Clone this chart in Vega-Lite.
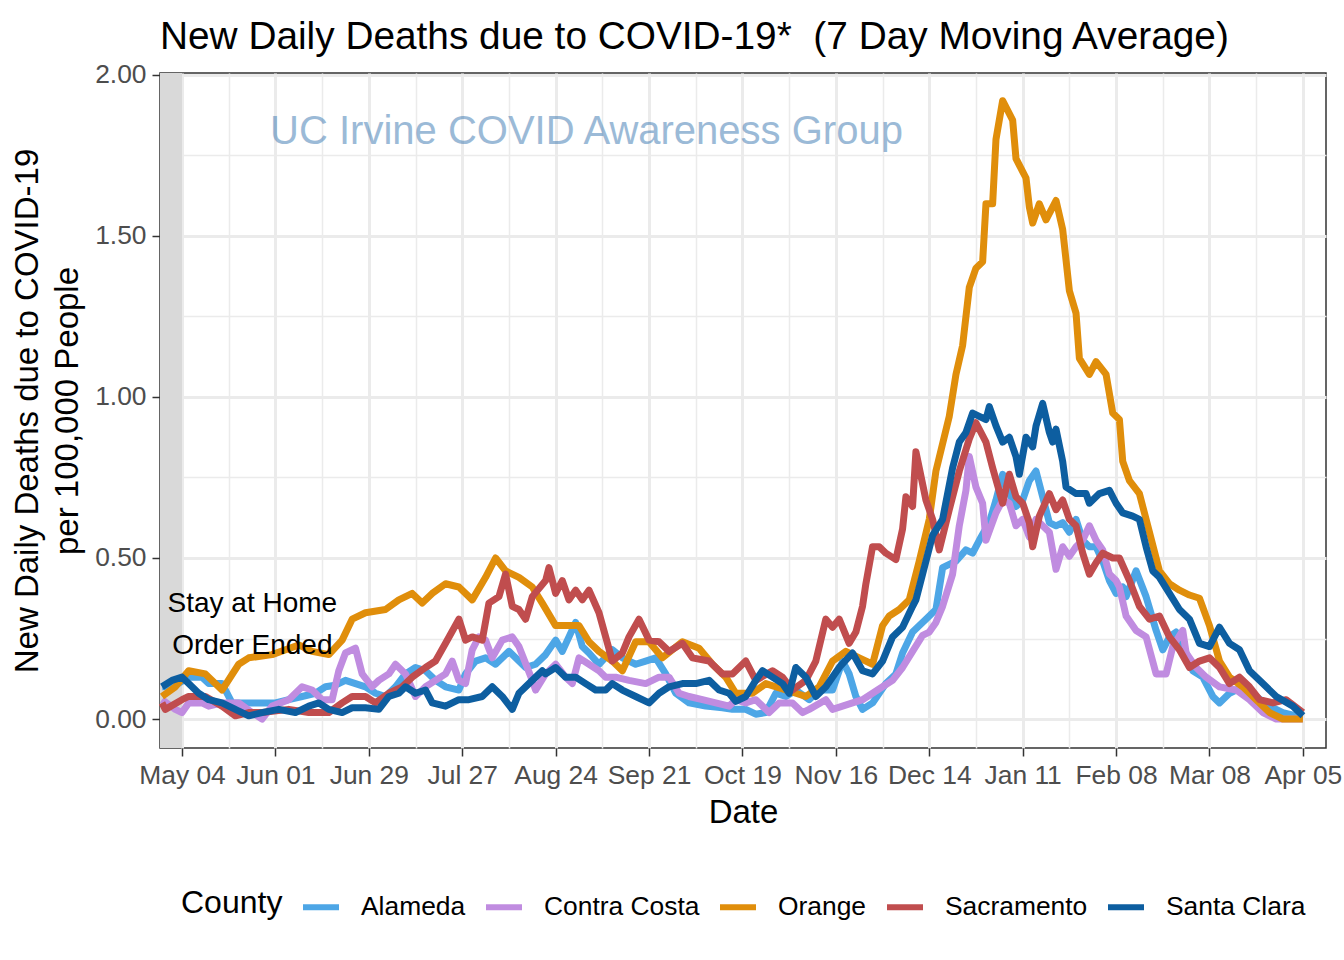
{
  "$schema": "https://vega.github.io/schema/vega-lite/v6.json",
  "autosize": "none",
  "width": 1166,
  "height": 675,
  "padding": {"left": 160, "top": 73, "right": 18, "bottom": 212},
  "background": "white",
  "title": {
    "text": "New Daily Deaths due to COVID-19*\u00a0 (7 Day Moving Average)",
    "anchor": "start",
    "frame": "group",
    "fontSize": 38.8,
    "fontWeight": "normal",
    "color": "black",
    "baseline": "alphabetic",
    "offset": 26,
    "dy": 52
  },
  "config": {
    "font": "Liberation Sans",
    "view": {"stroke": "#333333", "strokeWidth": 1.5},
    "axis": {
      "domain": false,
      "grid": true,
      "tickColor": "#333333",
      "tickSize": 8,
      "tickWidth": 1.5,
      "labelColor": "#4D4D4D",
      "labelFontSize": 26.4,
      "titleFontSize": 33,
      "titleFontWeight": "normal",
      "titleColor": "black",
      "gridColor": "#EBEBEB"
    }
  },
  "layer": [
    {
      "data": {"values": [{}]},
      "mark": {"type": "rect", "color": "#D9D9D9", "clip": true},
      "encoding": {
        "x": {"datum": {"year": 2020, "month": 4, "date": 1, "utc": true}, "type": "temporal"},
        "x2": {"datum": {"year": 2020, "month": 5, "date": 4, "utc": true}}
      }
    },
    {
      "data": {
        "values": [
          {"county": "Alameda", "date": "2020-04-28", "deaths": 0.10},
          {"county": "Alameda", "date": "2020-05-02", "deaths": 0.105},
          {"county": "Alameda", "date": "2020-05-06", "deaths": 0.13},
          {"county": "Alameda", "date": "2020-05-10", "deaths": 0.13},
          {"county": "Alameda", "date": "2020-05-12", "deaths": 0.11},
          {"county": "Alameda", "date": "2020-05-16", "deaths": 0.11},
          {"county": "Alameda", "date": "2020-05-19", "deaths": 0.05},
          {"county": "Alameda", "date": "2020-05-24", "deaths": 0.05},
          {"county": "Alameda", "date": "2020-05-28", "deaths": 0.05},
          {"county": "Alameda", "date": "2020-06-01", "deaths": 0.05},
          {"county": "Alameda", "date": "2020-06-05", "deaths": 0.06},
          {"county": "Alameda", "date": "2020-06-09", "deaths": 0.07},
          {"county": "Alameda", "date": "2020-06-13", "deaths": 0.08},
          {"county": "Alameda", "date": "2020-06-16", "deaths": 0.10},
          {"county": "Alameda", "date": "2020-06-19", "deaths": 0.105},
          {"county": "Alameda", "date": "2020-06-22", "deaths": 0.12},
          {"county": "Alameda", "date": "2020-06-25", "deaths": 0.11},
          {"county": "Alameda", "date": "2020-06-28", "deaths": 0.10},
          {"county": "Alameda", "date": "2020-07-01", "deaths": 0.08},
          {"county": "Alameda", "date": "2020-07-04", "deaths": 0.07},
          {"county": "Alameda", "date": "2020-07-07", "deaths": 0.10},
          {"county": "Alameda", "date": "2020-07-10", "deaths": 0.14},
          {"county": "Alameda", "date": "2020-07-13", "deaths": 0.16},
          {"county": "Alameda", "date": "2020-07-16", "deaths": 0.15},
          {"county": "Alameda", "date": "2020-07-19", "deaths": 0.12},
          {"county": "Alameda", "date": "2020-07-22", "deaths": 0.10},
          {"county": "Alameda", "date": "2020-07-26", "deaths": 0.09},
          {"county": "Alameda", "date": "2020-07-28", "deaths": 0.14},
          {"county": "Alameda", "date": "2020-07-31", "deaths": 0.18},
          {"county": "Alameda", "date": "2020-08-03", "deaths": 0.19},
          {"county": "Alameda", "date": "2020-08-06", "deaths": 0.17},
          {"county": "Alameda", "date": "2020-08-10", "deaths": 0.21},
          {"county": "Alameda", "date": "2020-08-13", "deaths": 0.18},
          {"county": "Alameda", "date": "2020-08-15", "deaths": 0.16},
          {"county": "Alameda", "date": "2020-08-18", "deaths": 0.17},
          {"county": "Alameda", "date": "2020-08-21", "deaths": 0.20},
          {"county": "Alameda", "date": "2020-08-24", "deaths": 0.245},
          {"county": "Alameda", "date": "2020-08-26", "deaths": 0.21},
          {"county": "Alameda", "date": "2020-08-28", "deaths": 0.255},
          {"county": "Alameda", "date": "2020-08-30", "deaths": 0.30},
          {"county": "Alameda", "date": "2020-09-01", "deaths": 0.225},
          {"county": "Alameda", "date": "2020-09-03", "deaths": 0.205},
          {"county": "Alameda", "date": "2020-09-06", "deaths": 0.17},
          {"county": "Alameda", "date": "2020-09-10", "deaths": 0.215},
          {"county": "Alameda", "date": "2020-09-13", "deaths": 0.19},
          {"county": "Alameda", "date": "2020-09-17", "deaths": 0.17},
          {"county": "Alameda", "date": "2020-09-20", "deaths": 0.18},
          {"county": "Alameda", "date": "2020-09-23", "deaths": 0.19},
          {"county": "Alameda", "date": "2020-09-26", "deaths": 0.14},
          {"county": "Alameda", "date": "2020-09-29", "deaths": 0.08},
          {"county": "Alameda", "date": "2020-10-03", "deaths": 0.05},
          {"county": "Alameda", "date": "2020-10-08", "deaths": 0.04},
          {"county": "Alameda", "date": "2020-10-13", "deaths": 0.035},
          {"county": "Alameda", "date": "2020-10-16", "deaths": 0.03},
          {"county": "Alameda", "date": "2020-10-20", "deaths": 0.03},
          {"county": "Alameda", "date": "2020-10-23", "deaths": 0.015},
          {"county": "Alameda", "date": "2020-10-26", "deaths": 0.02},
          {"county": "Alameda", "date": "2020-10-29", "deaths": 0.08},
          {"county": "Alameda", "date": "2020-11-01", "deaths": 0.07},
          {"county": "Alameda", "date": "2020-11-04", "deaths": 0.09},
          {"county": "Alameda", "date": "2020-11-08", "deaths": 0.06},
          {"county": "Alameda", "date": "2020-11-11", "deaths": 0.09},
          {"county": "Alameda", "date": "2020-11-15", "deaths": 0.09},
          {"county": "Alameda", "date": "2020-11-18", "deaths": 0.18},
          {"county": "Alameda", "date": "2020-11-20", "deaths": 0.14},
          {"county": "Alameda", "date": "2020-11-22", "deaths": 0.07},
          {"county": "Alameda", "date": "2020-11-24", "deaths": 0.03},
          {"county": "Alameda", "date": "2020-11-27", "deaths": 0.05},
          {"county": "Alameda", "date": "2020-12-01", "deaths": 0.11},
          {"county": "Alameda", "date": "2020-12-04", "deaths": 0.14},
          {"county": "Alameda", "date": "2020-12-06", "deaths": 0.205},
          {"county": "Alameda", "date": "2020-12-09", "deaths": 0.27},
          {"county": "Alameda", "date": "2020-12-13", "deaths": 0.31},
          {"county": "Alameda", "date": "2020-12-16", "deaths": 0.34},
          {"county": "Alameda", "date": "2020-12-18", "deaths": 0.47},
          {"county": "Alameda", "date": "2020-12-22", "deaths": 0.49},
          {"county": "Alameda", "date": "2020-12-25", "deaths": 0.525},
          {"county": "Alameda", "date": "2020-12-27", "deaths": 0.515},
          {"county": "Alameda", "date": "2020-12-29", "deaths": 0.555},
          {"county": "Alameda", "date": "2021-01-01", "deaths": 0.61},
          {"county": "Alameda", "date": "2021-01-03", "deaths": 0.68},
          {"county": "Alameda", "date": "2021-01-05", "deaths": 0.76},
          {"county": "Alameda", "date": "2021-01-07", "deaths": 0.70},
          {"county": "Alameda", "date": "2021-01-09", "deaths": 0.66},
          {"county": "Alameda", "date": "2021-01-11", "deaths": 0.68},
          {"county": "Alameda", "date": "2021-01-13", "deaths": 0.74},
          {"county": "Alameda", "date": "2021-01-15", "deaths": 0.77},
          {"county": "Alameda", "date": "2021-01-17", "deaths": 0.69},
          {"county": "Alameda", "date": "2021-01-19", "deaths": 0.61},
          {"county": "Alameda", "date": "2021-01-21", "deaths": 0.60},
          {"county": "Alameda", "date": "2021-01-23", "deaths": 0.61},
          {"county": "Alameda", "date": "2021-01-25", "deaths": 0.58},
          {"county": "Alameda", "date": "2021-01-27", "deaths": 0.62},
          {"county": "Alameda", "date": "2021-01-29", "deaths": 0.555},
          {"county": "Alameda", "date": "2021-01-31", "deaths": 0.535},
          {"county": "Alameda", "date": "2021-02-02", "deaths": 0.535},
          {"county": "Alameda", "date": "2021-02-04", "deaths": 0.49},
          {"county": "Alameda", "date": "2021-02-06", "deaths": 0.43},
          {"county": "Alameda", "date": "2021-02-08", "deaths": 0.39},
          {"county": "Alameda", "date": "2021-02-10", "deaths": 0.41},
          {"county": "Alameda", "date": "2021-02-11", "deaths": 0.38},
          {"county": "Alameda", "date": "2021-02-14", "deaths": 0.46},
          {"county": "Alameda", "date": "2021-02-17", "deaths": 0.38},
          {"county": "Alameda", "date": "2021-02-20", "deaths": 0.275},
          {"county": "Alameda", "date": "2021-02-22", "deaths": 0.215},
          {"county": "Alameda", "date": "2021-02-24", "deaths": 0.255},
          {"county": "Alameda", "date": "2021-02-26", "deaths": 0.27},
          {"county": "Alameda", "date": "2021-03-01", "deaths": 0.205},
          {"county": "Alameda", "date": "2021-03-03", "deaths": 0.15},
          {"county": "Alameda", "date": "2021-03-06", "deaths": 0.13},
          {"county": "Alameda", "date": "2021-03-09", "deaths": 0.07},
          {"county": "Alameda", "date": "2021-03-11", "deaths": 0.05},
          {"county": "Alameda", "date": "2021-03-14", "deaths": 0.08},
          {"county": "Alameda", "date": "2021-03-18", "deaths": 0.10},
          {"county": "Alameda", "date": "2021-03-22", "deaths": 0.07},
          {"county": "Alameda", "date": "2021-03-26", "deaths": 0.04},
          {"county": "Alameda", "date": "2021-03-30", "deaths": 0.02},
          {"county": "Alameda", "date": "2021-04-03", "deaths": 0.01},
          {"county": "Alameda", "date": "2021-04-05", "deaths": 0.01},

          {"county": "Contra Costa", "date": "2020-04-28", "deaths": 0.06},
          {"county": "Contra Costa", "date": "2020-05-02", "deaths": 0.03},
          {"county": "Contra Costa", "date": "2020-05-04", "deaths": 0.02},
          {"county": "Contra Costa", "date": "2020-05-06", "deaths": 0.05},
          {"county": "Contra Costa", "date": "2020-05-10", "deaths": 0.05},
          {"county": "Contra Costa", "date": "2020-05-12", "deaths": 0.04},
          {"county": "Contra Costa", "date": "2020-05-16", "deaths": 0.05},
          {"county": "Contra Costa", "date": "2020-05-21", "deaths": 0.05},
          {"county": "Contra Costa", "date": "2020-05-25", "deaths": 0.02},
          {"county": "Contra Costa", "date": "2020-05-28", "deaths": 0.0},
          {"county": "Contra Costa", "date": "2020-05-31", "deaths": 0.04},
          {"county": "Contra Costa", "date": "2020-06-05", "deaths": 0.06},
          {"county": "Contra Costa", "date": "2020-06-09", "deaths": 0.10},
          {"county": "Contra Costa", "date": "2020-06-12", "deaths": 0.09},
          {"county": "Contra Costa", "date": "2020-06-15", "deaths": 0.06},
          {"county": "Contra Costa", "date": "2020-06-18", "deaths": 0.06},
          {"county": "Contra Costa", "date": "2020-06-20", "deaths": 0.15},
          {"county": "Contra Costa", "date": "2020-06-22", "deaths": 0.205},
          {"county": "Contra Costa", "date": "2020-06-25", "deaths": 0.22},
          {"county": "Contra Costa", "date": "2020-06-27", "deaths": 0.14},
          {"county": "Contra Costa", "date": "2020-06-30", "deaths": 0.10},
          {"county": "Contra Costa", "date": "2020-07-02", "deaths": 0.12},
          {"county": "Contra Costa", "date": "2020-07-05", "deaths": 0.14},
          {"county": "Contra Costa", "date": "2020-07-07", "deaths": 0.17},
          {"county": "Contra Costa", "date": "2020-07-10", "deaths": 0.14},
          {"county": "Contra Costa", "date": "2020-07-13", "deaths": 0.07},
          {"county": "Contra Costa", "date": "2020-07-16", "deaths": 0.10},
          {"county": "Contra Costa", "date": "2020-07-19", "deaths": 0.12},
          {"county": "Contra Costa", "date": "2020-07-22", "deaths": 0.14},
          {"county": "Contra Costa", "date": "2020-07-24", "deaths": 0.18},
          {"county": "Contra Costa", "date": "2020-07-26", "deaths": 0.12},
          {"county": "Contra Costa", "date": "2020-07-28", "deaths": 0.11},
          {"county": "Contra Costa", "date": "2020-07-30", "deaths": 0.215},
          {"county": "Contra Costa", "date": "2020-08-01", "deaths": 0.255},
          {"county": "Contra Costa", "date": "2020-08-03", "deaths": 0.245},
          {"county": "Contra Costa", "date": "2020-08-05", "deaths": 0.19},
          {"county": "Contra Costa", "date": "2020-08-08", "deaths": 0.245},
          {"county": "Contra Costa", "date": "2020-08-11", "deaths": 0.255},
          {"county": "Contra Costa", "date": "2020-08-13", "deaths": 0.225},
          {"county": "Contra Costa", "date": "2020-08-17", "deaths": 0.12},
          {"county": "Contra Costa", "date": "2020-08-18", "deaths": 0.09},
          {"county": "Contra Costa", "date": "2020-08-21", "deaths": 0.14},
          {"county": "Contra Costa", "date": "2020-08-24", "deaths": 0.17},
          {"county": "Contra Costa", "date": "2020-08-27", "deaths": 0.13},
          {"county": "Contra Costa", "date": "2020-08-29", "deaths": 0.11},
          {"county": "Contra Costa", "date": "2020-08-31", "deaths": 0.19},
          {"county": "Contra Costa", "date": "2020-09-03", "deaths": 0.17},
          {"county": "Contra Costa", "date": "2020-09-06", "deaths": 0.15},
          {"county": "Contra Costa", "date": "2020-09-08", "deaths": 0.13},
          {"county": "Contra Costa", "date": "2020-09-11", "deaths": 0.13},
          {"county": "Contra Costa", "date": "2020-09-15", "deaths": 0.12},
          {"county": "Contra Costa", "date": "2020-09-20", "deaths": 0.11},
          {"county": "Contra Costa", "date": "2020-09-24", "deaths": 0.13},
          {"county": "Contra Costa", "date": "2020-09-27", "deaths": 0.13},
          {"county": "Contra Costa", "date": "2020-09-30", "deaths": 0.08},
          {"county": "Contra Costa", "date": "2020-10-03", "deaths": 0.07},
          {"county": "Contra Costa", "date": "2020-10-07", "deaths": 0.06},
          {"county": "Contra Costa", "date": "2020-10-11", "deaths": 0.05},
          {"county": "Contra Costa", "date": "2020-10-15", "deaths": 0.04},
          {"county": "Contra Costa", "date": "2020-10-17", "deaths": 0.06},
          {"county": "Contra Costa", "date": "2020-10-20", "deaths": 0.05},
          {"county": "Contra Costa", "date": "2020-10-23", "deaths": 0.06},
          {"county": "Contra Costa", "date": "2020-10-27", "deaths": 0.02},
          {"county": "Contra Costa", "date": "2020-10-30", "deaths": 0.05},
          {"county": "Contra Costa", "date": "2020-11-03", "deaths": 0.05},
          {"county": "Contra Costa", "date": "2020-11-06", "deaths": 0.02},
          {"county": "Contra Costa", "date": "2020-11-08", "deaths": 0.03},
          {"county": "Contra Costa", "date": "2020-11-13", "deaths": 0.06},
          {"county": "Contra Costa", "date": "2020-11-15", "deaths": 0.03},
          {"county": "Contra Costa", "date": "2020-11-18", "deaths": 0.04},
          {"county": "Contra Costa", "date": "2020-11-21", "deaths": 0.05},
          {"county": "Contra Costa", "date": "2020-11-24", "deaths": 0.06},
          {"county": "Contra Costa", "date": "2020-11-27", "deaths": 0.08},
          {"county": "Contra Costa", "date": "2020-11-30", "deaths": 0.10},
          {"county": "Contra Costa", "date": "2020-12-03", "deaths": 0.12},
          {"county": "Contra Costa", "date": "2020-12-06", "deaths": 0.16},
          {"county": "Contra Costa", "date": "2020-12-09", "deaths": 0.21},
          {"county": "Contra Costa", "date": "2020-12-12", "deaths": 0.26},
          {"county": "Contra Costa", "date": "2020-12-14", "deaths": 0.27},
          {"county": "Contra Costa", "date": "2020-12-16", "deaths": 0.30},
          {"county": "Contra Costa", "date": "2020-12-18", "deaths": 0.35},
          {"county": "Contra Costa", "date": "2020-12-21", "deaths": 0.45},
          {"county": "Contra Costa", "date": "2020-12-23", "deaths": 0.60},
          {"county": "Contra Costa", "date": "2020-12-25", "deaths": 0.71},
          {"county": "Contra Costa", "date": "2020-12-26", "deaths": 0.815},
          {"county": "Contra Costa", "date": "2020-12-28", "deaths": 0.72},
          {"county": "Contra Costa", "date": "2020-12-30", "deaths": 0.67},
          {"county": "Contra Costa", "date": "2020-12-31", "deaths": 0.555},
          {"county": "Contra Costa", "date": "2021-01-03", "deaths": 0.64},
          {"county": "Contra Costa", "date": "2021-01-05", "deaths": 0.68},
          {"county": "Contra Costa", "date": "2021-01-07", "deaths": 0.67},
          {"county": "Contra Costa", "date": "2021-01-09", "deaths": 0.60},
          {"county": "Contra Costa", "date": "2021-01-11", "deaths": 0.62},
          {"county": "Contra Costa", "date": "2021-01-13", "deaths": 0.565},
          {"county": "Contra Costa", "date": "2021-01-15", "deaths": 0.62},
          {"county": "Contra Costa", "date": "2021-01-17", "deaths": 0.60},
          {"county": "Contra Costa", "date": "2021-01-19", "deaths": 0.58},
          {"county": "Contra Costa", "date": "2021-01-21", "deaths": 0.465},
          {"county": "Contra Costa", "date": "2021-01-23", "deaths": 0.535},
          {"county": "Contra Costa", "date": "2021-01-25", "deaths": 0.505},
          {"county": "Contra Costa", "date": "2021-01-27", "deaths": 0.535},
          {"county": "Contra Costa", "date": "2021-01-29", "deaths": 0.555},
          {"county": "Contra Costa", "date": "2021-01-31", "deaths": 0.60},
          {"county": "Contra Costa", "date": "2021-02-02", "deaths": 0.555},
          {"county": "Contra Costa", "date": "2021-02-04", "deaths": 0.525},
          {"county": "Contra Costa", "date": "2021-02-06", "deaths": 0.45},
          {"county": "Contra Costa", "date": "2021-02-08", "deaths": 0.43},
          {"county": "Contra Costa", "date": "2021-02-09", "deaths": 0.41},
          {"county": "Contra Costa", "date": "2021-02-11", "deaths": 0.32},
          {"county": "Contra Costa", "date": "2021-02-14", "deaths": 0.275},
          {"county": "Contra Costa", "date": "2021-02-17", "deaths": 0.255},
          {"county": "Contra Costa", "date": "2021-02-20", "deaths": 0.14},
          {"county": "Contra Costa", "date": "2021-02-23", "deaths": 0.14},
          {"county": "Contra Costa", "date": "2021-02-25", "deaths": 0.225},
          {"county": "Contra Costa", "date": "2021-02-28", "deaths": 0.275},
          {"county": "Contra Costa", "date": "2021-03-01", "deaths": 0.205},
          {"county": "Contra Costa", "date": "2021-03-04", "deaths": 0.16},
          {"county": "Contra Costa", "date": "2021-03-07", "deaths": 0.13},
          {"county": "Contra Costa", "date": "2021-03-11", "deaths": 0.10},
          {"county": "Contra Costa", "date": "2021-03-16", "deaths": 0.09},
          {"county": "Contra Costa", "date": "2021-03-20", "deaths": 0.06},
          {"county": "Contra Costa", "date": "2021-03-24", "deaths": 0.02},
          {"county": "Contra Costa", "date": "2021-03-28", "deaths": 0.0},
          {"county": "Contra Costa", "date": "2021-04-03", "deaths": 0.0},
          {"county": "Contra Costa", "date": "2021-04-05", "deaths": 0.0},

          {"county": "Orange", "date": "2020-04-28", "deaths": 0.07},
          {"county": "Orange", "date": "2020-05-02", "deaths": 0.10},
          {"county": "Orange", "date": "2020-05-06", "deaths": 0.15},
          {"county": "Orange", "date": "2020-05-11", "deaths": 0.14},
          {"county": "Orange", "date": "2020-05-16", "deaths": 0.09},
          {"county": "Orange", "date": "2020-05-21", "deaths": 0.17},
          {"county": "Orange", "date": "2020-05-24", "deaths": 0.19},
          {"county": "Orange", "date": "2020-05-31", "deaths": 0.20},
          {"county": "Orange", "date": "2020-06-08", "deaths": 0.23},
          {"county": "Orange", "date": "2020-06-12", "deaths": 0.21},
          {"county": "Orange", "date": "2020-06-17", "deaths": 0.20},
          {"county": "Orange", "date": "2020-06-21", "deaths": 0.245},
          {"county": "Orange", "date": "2020-06-24", "deaths": 0.31},
          {"county": "Orange", "date": "2020-06-28", "deaths": 0.33},
          {"county": "Orange", "date": "2020-07-04", "deaths": 0.34},
          {"county": "Orange", "date": "2020-07-08", "deaths": 0.37},
          {"county": "Orange", "date": "2020-07-12", "deaths": 0.39},
          {"county": "Orange", "date": "2020-07-15", "deaths": 0.36},
          {"county": "Orange", "date": "2020-07-18", "deaths": 0.39},
          {"county": "Orange", "date": "2020-07-22", "deaths": 0.42},
          {"county": "Orange", "date": "2020-07-26", "deaths": 0.41},
          {"county": "Orange", "date": "2020-07-30", "deaths": 0.37},
          {"county": "Orange", "date": "2020-08-03", "deaths": 0.44},
          {"county": "Orange", "date": "2020-08-06", "deaths": 0.50},
          {"county": "Orange", "date": "2020-08-09", "deaths": 0.46},
          {"county": "Orange", "date": "2020-08-13", "deaths": 0.44},
          {"county": "Orange", "date": "2020-08-17", "deaths": 0.41},
          {"county": "Orange", "date": "2020-08-20", "deaths": 0.36},
          {"county": "Orange", "date": "2020-08-24", "deaths": 0.29},
          {"county": "Orange", "date": "2020-08-28", "deaths": 0.29},
          {"county": "Orange", "date": "2020-08-31", "deaths": 0.29},
          {"county": "Orange", "date": "2020-09-03", "deaths": 0.24},
          {"county": "Orange", "date": "2020-09-06", "deaths": 0.21},
          {"county": "Orange", "date": "2020-09-10", "deaths": 0.18},
          {"county": "Orange", "date": "2020-09-13", "deaths": 0.15},
          {"county": "Orange", "date": "2020-09-17", "deaths": 0.24},
          {"county": "Orange", "date": "2020-09-21", "deaths": 0.24},
          {"county": "Orange", "date": "2020-09-25", "deaths": 0.19},
          {"county": "Orange", "date": "2020-10-01", "deaths": 0.24},
          {"county": "Orange", "date": "2020-10-06", "deaths": 0.22},
          {"county": "Orange", "date": "2020-10-10", "deaths": 0.17},
          {"county": "Orange", "date": "2020-10-14", "deaths": 0.13},
          {"county": "Orange", "date": "2020-10-17", "deaths": 0.08},
          {"county": "Orange", "date": "2020-10-22", "deaths": 0.08},
          {"county": "Orange", "date": "2020-10-26", "deaths": 0.11},
          {"county": "Orange", "date": "2020-11-01", "deaths": 0.09},
          {"county": "Orange", "date": "2020-11-07", "deaths": 0.07},
          {"county": "Orange", "date": "2020-11-11", "deaths": 0.10},
          {"county": "Orange", "date": "2020-11-15", "deaths": 0.18},
          {"county": "Orange", "date": "2020-11-19", "deaths": 0.21},
          {"county": "Orange", "date": "2020-11-23", "deaths": 0.19},
          {"county": "Orange", "date": "2020-11-27", "deaths": 0.17},
          {"county": "Orange", "date": "2020-11-30", "deaths": 0.29},
          {"county": "Orange", "date": "2020-12-02", "deaths": 0.32},
          {"county": "Orange", "date": "2020-12-05", "deaths": 0.34},
          {"county": "Orange", "date": "2020-12-08", "deaths": 0.37},
          {"county": "Orange", "date": "2020-12-11", "deaths": 0.49},
          {"county": "Orange", "date": "2020-12-14", "deaths": 0.62},
          {"county": "Orange", "date": "2020-12-16", "deaths": 0.77},
          {"county": "Orange", "date": "2020-12-20", "deaths": 0.94},
          {"county": "Orange", "date": "2020-12-22", "deaths": 1.07},
          {"county": "Orange", "date": "2020-12-24", "deaths": 1.16},
          {"county": "Orange", "date": "2020-12-26", "deaths": 1.34},
          {"county": "Orange", "date": "2020-12-28", "deaths": 1.40},
          {"county": "Orange", "date": "2020-12-30", "deaths": 1.42},
          {"county": "Orange", "date": "2020-12-31", "deaths": 1.60},
          {"county": "Orange", "date": "2021-01-02", "deaths": 1.60},
          {"county": "Orange", "date": "2021-01-03", "deaths": 1.80},
          {"county": "Orange", "date": "2021-01-05", "deaths": 1.92},
          {"county": "Orange", "date": "2021-01-08", "deaths": 1.86},
          {"county": "Orange", "date": "2021-01-09", "deaths": 1.74},
          {"county": "Orange", "date": "2021-01-11", "deaths": 1.70},
          {"county": "Orange", "date": "2021-01-12", "deaths": 1.68},
          {"county": "Orange", "date": "2021-01-13", "deaths": 1.59},
          {"county": "Orange", "date": "2021-01-14", "deaths": 1.54},
          {"county": "Orange", "date": "2021-01-16", "deaths": 1.60},
          {"county": "Orange", "date": "2021-01-18", "deaths": 1.55},
          {"county": "Orange", "date": "2021-01-21", "deaths": 1.61},
          {"county": "Orange", "date": "2021-01-23", "deaths": 1.52},
          {"county": "Orange", "date": "2021-01-25", "deaths": 1.33},
          {"county": "Orange", "date": "2021-01-27", "deaths": 1.26},
          {"county": "Orange", "date": "2021-01-28", "deaths": 1.12},
          {"county": "Orange", "date": "2021-01-31", "deaths": 1.07},
          {"county": "Orange", "date": "2021-02-02", "deaths": 1.11},
          {"county": "Orange", "date": "2021-02-05", "deaths": 1.07},
          {"county": "Orange", "date": "2021-02-07", "deaths": 0.95},
          {"county": "Orange", "date": "2021-02-09", "deaths": 0.93},
          {"county": "Orange", "date": "2021-02-10", "deaths": 0.80},
          {"county": "Orange", "date": "2021-02-12", "deaths": 0.74},
          {"county": "Orange", "date": "2021-02-15", "deaths": 0.70},
          {"county": "Orange", "date": "2021-02-18", "deaths": 0.58},
          {"county": "Orange", "date": "2021-02-21", "deaths": 0.46},
          {"county": "Orange", "date": "2021-02-24", "deaths": 0.42},
          {"county": "Orange", "date": "2021-02-27", "deaths": 0.40},
          {"county": "Orange", "date": "2021-03-02", "deaths": 0.385},
          {"county": "Orange", "date": "2021-03-05", "deaths": 0.375},
          {"county": "Orange", "date": "2021-03-08", "deaths": 0.29},
          {"county": "Orange", "date": "2021-03-11", "deaths": 0.18},
          {"county": "Orange", "date": "2021-03-14", "deaths": 0.13},
          {"county": "Orange", "date": "2021-03-18", "deaths": 0.10},
          {"county": "Orange", "date": "2021-03-22", "deaths": 0.06},
          {"county": "Orange", "date": "2021-03-26", "deaths": 0.02},
          {"county": "Orange", "date": "2021-03-30", "deaths": 0.0},
          {"county": "Orange", "date": "2021-04-05", "deaths": 0.0},

          {"county": "Sacramento", "date": "2020-04-28", "deaths": 0.05},
          {"county": "Sacramento", "date": "2020-04-29", "deaths": 0.03},
          {"county": "Sacramento", "date": "2020-05-04", "deaths": 0.06},
          {"county": "Sacramento", "date": "2020-05-06", "deaths": 0.07},
          {"county": "Sacramento", "date": "2020-05-11", "deaths": 0.07},
          {"county": "Sacramento", "date": "2020-05-16", "deaths": 0.04},
          {"county": "Sacramento", "date": "2020-05-20", "deaths": 0.01},
          {"county": "Sacramento", "date": "2020-05-24", "deaths": 0.02},
          {"county": "Sacramento", "date": "2020-05-28", "deaths": 0.02},
          {"county": "Sacramento", "date": "2020-06-05", "deaths": 0.03},
          {"county": "Sacramento", "date": "2020-06-11", "deaths": 0.02},
          {"county": "Sacramento", "date": "2020-06-17", "deaths": 0.02},
          {"county": "Sacramento", "date": "2020-06-21", "deaths": 0.05},
          {"county": "Sacramento", "date": "2020-06-24", "deaths": 0.07},
          {"county": "Sacramento", "date": "2020-06-28", "deaths": 0.07},
          {"county": "Sacramento", "date": "2020-07-01", "deaths": 0.05},
          {"county": "Sacramento", "date": "2020-07-05", "deaths": 0.08},
          {"county": "Sacramento", "date": "2020-07-09", "deaths": 0.10},
          {"county": "Sacramento", "date": "2020-07-12", "deaths": 0.13},
          {"county": "Sacramento", "date": "2020-07-16", "deaths": 0.16},
          {"county": "Sacramento", "date": "2020-07-19", "deaths": 0.18},
          {"county": "Sacramento", "date": "2020-07-22", "deaths": 0.235},
          {"county": "Sacramento", "date": "2020-07-26", "deaths": 0.31},
          {"county": "Sacramento", "date": "2020-07-28", "deaths": 0.245},
          {"county": "Sacramento", "date": "2020-07-30", "deaths": 0.255},
          {"county": "Sacramento", "date": "2020-08-02", "deaths": 0.245},
          {"county": "Sacramento", "date": "2020-08-04", "deaths": 0.36},
          {"county": "Sacramento", "date": "2020-08-07", "deaths": 0.38},
          {"county": "Sacramento", "date": "2020-08-09", "deaths": 0.45},
          {"county": "Sacramento", "date": "2020-08-11", "deaths": 0.35},
          {"county": "Sacramento", "date": "2020-08-13", "deaths": 0.34},
          {"county": "Sacramento", "date": "2020-08-15", "deaths": 0.31},
          {"county": "Sacramento", "date": "2020-08-17", "deaths": 0.38},
          {"county": "Sacramento", "date": "2020-08-21", "deaths": 0.43},
          {"county": "Sacramento", "date": "2020-08-22", "deaths": 0.47},
          {"county": "Sacramento", "date": "2020-08-24", "deaths": 0.39},
          {"county": "Sacramento", "date": "2020-08-26", "deaths": 0.43},
          {"county": "Sacramento", "date": "2020-08-28", "deaths": 0.37},
          {"county": "Sacramento", "date": "2020-08-30", "deaths": 0.40},
          {"county": "Sacramento", "date": "2020-09-01", "deaths": 0.37},
          {"county": "Sacramento", "date": "2020-09-03", "deaths": 0.40},
          {"county": "Sacramento", "date": "2020-09-06", "deaths": 0.33},
          {"county": "Sacramento", "date": "2020-09-10", "deaths": 0.18},
          {"county": "Sacramento", "date": "2020-09-13", "deaths": 0.205},
          {"county": "Sacramento", "date": "2020-09-15", "deaths": 0.255},
          {"county": "Sacramento", "date": "2020-09-18", "deaths": 0.31},
          {"county": "Sacramento", "date": "2020-09-21", "deaths": 0.245},
          {"county": "Sacramento", "date": "2020-09-24", "deaths": 0.24},
          {"county": "Sacramento", "date": "2020-09-27", "deaths": 0.21},
          {"county": "Sacramento", "date": "2020-10-01", "deaths": 0.235},
          {"county": "Sacramento", "date": "2020-10-04", "deaths": 0.19},
          {"county": "Sacramento", "date": "2020-10-09", "deaths": 0.18},
          {"county": "Sacramento", "date": "2020-10-13", "deaths": 0.14},
          {"county": "Sacramento", "date": "2020-10-16", "deaths": 0.14},
          {"county": "Sacramento", "date": "2020-10-17", "deaths": 0.15},
          {"county": "Sacramento", "date": "2020-10-20", "deaths": 0.18},
          {"county": "Sacramento", "date": "2020-10-23", "deaths": 0.12},
          {"county": "Sacramento", "date": "2020-10-28", "deaths": 0.15},
          {"county": "Sacramento", "date": "2020-10-31", "deaths": 0.13},
          {"county": "Sacramento", "date": "2020-11-03", "deaths": 0.09},
          {"county": "Sacramento", "date": "2020-11-07", "deaths": 0.12},
          {"county": "Sacramento", "date": "2020-11-10", "deaths": 0.18},
          {"county": "Sacramento", "date": "2020-11-13", "deaths": 0.31},
          {"county": "Sacramento", "date": "2020-11-15", "deaths": 0.285},
          {"county": "Sacramento", "date": "2020-11-17", "deaths": 0.31},
          {"county": "Sacramento", "date": "2020-11-20", "deaths": 0.235},
          {"county": "Sacramento", "date": "2020-11-22", "deaths": 0.27},
          {"county": "Sacramento", "date": "2020-11-24", "deaths": 0.35},
          {"county": "Sacramento", "date": "2020-11-25", "deaths": 0.42},
          {"county": "Sacramento", "date": "2020-11-27", "deaths": 0.535},
          {"county": "Sacramento", "date": "2020-11-29", "deaths": 0.535},
          {"county": "Sacramento", "date": "2020-12-01", "deaths": 0.515},
          {"county": "Sacramento", "date": "2020-12-04", "deaths": 0.495},
          {"county": "Sacramento", "date": "2020-12-06", "deaths": 0.59},
          {"county": "Sacramento", "date": "2020-12-07", "deaths": 0.69},
          {"county": "Sacramento", "date": "2020-12-09", "deaths": 0.66},
          {"county": "Sacramento", "date": "2020-12-10", "deaths": 0.83},
          {"county": "Sacramento", "date": "2020-12-13", "deaths": 0.68},
          {"county": "Sacramento", "date": "2020-12-15", "deaths": 0.62},
          {"county": "Sacramento", "date": "2020-12-17", "deaths": 0.525},
          {"county": "Sacramento", "date": "2020-12-20", "deaths": 0.65},
          {"county": "Sacramento", "date": "2020-12-23", "deaths": 0.77},
          {"county": "Sacramento", "date": "2020-12-26", "deaths": 0.87},
          {"county": "Sacramento", "date": "2020-12-28", "deaths": 0.92},
          {"county": "Sacramento", "date": "2020-12-31", "deaths": 0.86},
          {"county": "Sacramento", "date": "2021-01-02", "deaths": 0.78},
          {"county": "Sacramento", "date": "2021-01-05", "deaths": 0.67},
          {"county": "Sacramento", "date": "2021-01-07", "deaths": 0.76},
          {"county": "Sacramento", "date": "2021-01-09", "deaths": 0.69},
          {"county": "Sacramento", "date": "2021-01-11", "deaths": 0.67},
          {"county": "Sacramento", "date": "2021-01-13", "deaths": 0.61},
          {"county": "Sacramento", "date": "2021-01-14", "deaths": 0.535},
          {"county": "Sacramento", "date": "2021-01-16", "deaths": 0.63},
          {"county": "Sacramento", "date": "2021-01-19", "deaths": 0.70},
          {"county": "Sacramento", "date": "2021-01-21", "deaths": 0.65},
          {"county": "Sacramento", "date": "2021-01-23", "deaths": 0.68},
          {"county": "Sacramento", "date": "2021-01-25", "deaths": 0.62},
          {"county": "Sacramento", "date": "2021-01-27", "deaths": 0.60},
          {"county": "Sacramento", "date": "2021-01-29", "deaths": 0.515},
          {"county": "Sacramento", "date": "2021-01-31", "deaths": 0.45},
          {"county": "Sacramento", "date": "2021-02-02", "deaths": 0.485},
          {"county": "Sacramento", "date": "2021-02-04", "deaths": 0.515},
          {"county": "Sacramento", "date": "2021-02-07", "deaths": 0.50},
          {"county": "Sacramento", "date": "2021-02-09", "deaths": 0.50},
          {"county": "Sacramento", "date": "2021-02-12", "deaths": 0.43},
          {"county": "Sacramento", "date": "2021-02-15", "deaths": 0.35},
          {"county": "Sacramento", "date": "2021-02-18", "deaths": 0.31},
          {"county": "Sacramento", "date": "2021-02-21", "deaths": 0.32},
          {"county": "Sacramento", "date": "2021-02-24", "deaths": 0.255},
          {"county": "Sacramento", "date": "2021-02-27", "deaths": 0.215},
          {"county": "Sacramento", "date": "2021-03-02", "deaths": 0.16},
          {"county": "Sacramento", "date": "2021-03-05", "deaths": 0.18},
          {"county": "Sacramento", "date": "2021-03-08", "deaths": 0.19},
          {"county": "Sacramento", "date": "2021-03-11", "deaths": 0.16},
          {"county": "Sacramento", "date": "2021-03-14", "deaths": 0.11},
          {"county": "Sacramento", "date": "2021-03-17", "deaths": 0.13},
          {"county": "Sacramento", "date": "2021-03-20", "deaths": 0.10},
          {"county": "Sacramento", "date": "2021-03-23", "deaths": 0.06},
          {"county": "Sacramento", "date": "2021-03-27", "deaths": 0.05},
          {"county": "Sacramento", "date": "2021-03-31", "deaths": 0.06},
          {"county": "Sacramento", "date": "2021-04-05", "deaths": 0.02},

          {"county": "Santa Clara", "date": "2020-04-28", "deaths": 0.10},
          {"county": "Santa Clara", "date": "2020-05-01", "deaths": 0.12},
          {"county": "Santa Clara", "date": "2020-05-04", "deaths": 0.13},
          {"county": "Santa Clara", "date": "2020-05-06", "deaths": 0.11},
          {"county": "Santa Clara", "date": "2020-05-09", "deaths": 0.08},
          {"county": "Santa Clara", "date": "2020-05-12", "deaths": 0.06},
          {"county": "Santa Clara", "date": "2020-05-16", "deaths": 0.05},
          {"county": "Santa Clara", "date": "2020-05-20", "deaths": 0.03},
          {"county": "Santa Clara", "date": "2020-05-24", "deaths": 0.01},
          {"county": "Santa Clara", "date": "2020-05-28", "deaths": 0.02},
          {"county": "Santa Clara", "date": "2020-06-02", "deaths": 0.03},
          {"county": "Santa Clara", "date": "2020-06-07", "deaths": 0.02},
          {"county": "Santa Clara", "date": "2020-06-11", "deaths": 0.04},
          {"county": "Santa Clara", "date": "2020-06-14", "deaths": 0.05},
          {"county": "Santa Clara", "date": "2020-06-17", "deaths": 0.03},
          {"county": "Santa Clara", "date": "2020-06-21", "deaths": 0.02},
          {"county": "Santa Clara", "date": "2020-06-24", "deaths": 0.035},
          {"county": "Santa Clara", "date": "2020-06-28", "deaths": 0.035},
          {"county": "Santa Clara", "date": "2020-07-02", "deaths": 0.03},
          {"county": "Santa Clara", "date": "2020-07-05", "deaths": 0.07},
          {"county": "Santa Clara", "date": "2020-07-08", "deaths": 0.08},
          {"county": "Santa Clara", "date": "2020-07-10", "deaths": 0.10},
          {"county": "Santa Clara", "date": "2020-07-13", "deaths": 0.08},
          {"county": "Santa Clara", "date": "2020-07-16", "deaths": 0.09},
          {"county": "Santa Clara", "date": "2020-07-18", "deaths": 0.05},
          {"county": "Santa Clara", "date": "2020-07-22", "deaths": 0.04},
          {"county": "Santa Clara", "date": "2020-07-26", "deaths": 0.06},
          {"county": "Santa Clara", "date": "2020-07-29", "deaths": 0.06},
          {"county": "Santa Clara", "date": "2020-08-02", "deaths": 0.07},
          {"county": "Santa Clara", "date": "2020-08-05", "deaths": 0.10},
          {"county": "Santa Clara", "date": "2020-08-08", "deaths": 0.07},
          {"county": "Santa Clara", "date": "2020-08-11", "deaths": 0.03},
          {"county": "Santa Clara", "date": "2020-08-13", "deaths": 0.08},
          {"county": "Santa Clara", "date": "2020-08-17", "deaths": 0.12},
          {"county": "Santa Clara", "date": "2020-08-20", "deaths": 0.15},
          {"county": "Santa Clara", "date": "2020-08-21", "deaths": 0.14},
          {"county": "Santa Clara", "date": "2020-08-24", "deaths": 0.16},
          {"county": "Santa Clara", "date": "2020-08-27", "deaths": 0.13},
          {"county": "Santa Clara", "date": "2020-08-30", "deaths": 0.13},
          {"county": "Santa Clara", "date": "2020-09-02", "deaths": 0.11},
          {"county": "Santa Clara", "date": "2020-09-05", "deaths": 0.09},
          {"county": "Santa Clara", "date": "2020-09-08", "deaths": 0.09},
          {"county": "Santa Clara", "date": "2020-09-10", "deaths": 0.11},
          {"county": "Santa Clara", "date": "2020-09-13", "deaths": 0.09},
          {"county": "Santa Clara", "date": "2020-09-17", "deaths": 0.07},
          {"county": "Santa Clara", "date": "2020-09-21", "deaths": 0.05},
          {"county": "Santa Clara", "date": "2020-09-24", "deaths": 0.08},
          {"county": "Santa Clara", "date": "2020-09-27", "deaths": 0.10},
          {"county": "Santa Clara", "date": "2020-10-01", "deaths": 0.11},
          {"county": "Santa Clara", "date": "2020-10-05", "deaths": 0.11},
          {"county": "Santa Clara", "date": "2020-10-09", "deaths": 0.12},
          {"county": "Santa Clara", "date": "2020-10-12", "deaths": 0.09},
          {"county": "Santa Clara", "date": "2020-10-15", "deaths": 0.08},
          {"county": "Santa Clara", "date": "2020-10-17", "deaths": 0.055},
          {"county": "Santa Clara", "date": "2020-10-20", "deaths": 0.07},
          {"county": "Santa Clara", "date": "2020-10-23", "deaths": 0.12},
          {"county": "Santa Clara", "date": "2020-10-25", "deaths": 0.15},
          {"county": "Santa Clara", "date": "2020-10-28", "deaths": 0.13},
          {"county": "Santa Clara", "date": "2020-10-31", "deaths": 0.11},
          {"county": "Santa Clara", "date": "2020-11-02", "deaths": 0.08},
          {"county": "Santa Clara", "date": "2020-11-04", "deaths": 0.16},
          {"county": "Santa Clara", "date": "2020-11-07", "deaths": 0.13},
          {"county": "Santa Clara", "date": "2020-11-10", "deaths": 0.07},
          {"county": "Santa Clara", "date": "2020-11-13", "deaths": 0.10},
          {"county": "Santa Clara", "date": "2020-11-17", "deaths": 0.16},
          {"county": "Santa Clara", "date": "2020-11-21", "deaths": 0.205},
          {"county": "Santa Clara", "date": "2020-11-24", "deaths": 0.15},
          {"county": "Santa Clara", "date": "2020-11-27", "deaths": 0.14},
          {"county": "Santa Clara", "date": "2020-11-30", "deaths": 0.18},
          {"county": "Santa Clara", "date": "2020-12-03", "deaths": 0.255},
          {"county": "Santa Clara", "date": "2020-12-06", "deaths": 0.285},
          {"county": "Santa Clara", "date": "2020-12-09", "deaths": 0.35},
          {"county": "Santa Clara", "date": "2020-12-10", "deaths": 0.37},
          {"county": "Santa Clara", "date": "2020-12-12", "deaths": 0.45},
          {"county": "Santa Clara", "date": "2020-12-15", "deaths": 0.57},
          {"county": "Santa Clara", "date": "2020-12-18", "deaths": 0.62},
          {"county": "Santa Clara", "date": "2020-12-21", "deaths": 0.78},
          {"county": "Santa Clara", "date": "2020-12-23", "deaths": 0.86},
          {"county": "Santa Clara", "date": "2020-12-25", "deaths": 0.89},
          {"county": "Santa Clara", "date": "2020-12-27", "deaths": 0.95},
          {"county": "Santa Clara", "date": "2020-12-29", "deaths": 0.94},
          {"county": "Santa Clara", "date": "2020-12-31", "deaths": 0.93},
          {"county": "Santa Clara", "date": "2021-01-01", "deaths": 0.97},
          {"county": "Santa Clara", "date": "2021-01-03", "deaths": 0.91},
          {"county": "Santa Clara", "date": "2021-01-05", "deaths": 0.86},
          {"county": "Santa Clara", "date": "2021-01-07", "deaths": 0.875},
          {"county": "Santa Clara", "date": "2021-01-09", "deaths": 0.815},
          {"county": "Santa Clara", "date": "2021-01-10", "deaths": 0.76},
          {"county": "Santa Clara", "date": "2021-01-12", "deaths": 0.875},
          {"county": "Santa Clara", "date": "2021-01-14", "deaths": 0.845},
          {"county": "Santa Clara", "date": "2021-01-15", "deaths": 0.91},
          {"county": "Santa Clara", "date": "2021-01-17", "deaths": 0.98},
          {"county": "Santa Clara", "date": "2021-01-19", "deaths": 0.89},
          {"county": "Santa Clara", "date": "2021-01-20", "deaths": 0.86},
          {"county": "Santa Clara", "date": "2021-01-21", "deaths": 0.90},
          {"county": "Santa Clara", "date": "2021-01-23", "deaths": 0.80},
          {"county": "Santa Clara", "date": "2021-01-24", "deaths": 0.72},
          {"county": "Santa Clara", "date": "2021-01-27", "deaths": 0.70},
          {"county": "Santa Clara", "date": "2021-01-30", "deaths": 0.70},
          {"county": "Santa Clara", "date": "2021-01-31", "deaths": 0.67},
          {"county": "Santa Clara", "date": "2021-02-03", "deaths": 0.70},
          {"county": "Santa Clara", "date": "2021-02-06", "deaths": 0.71},
          {"county": "Santa Clara", "date": "2021-02-08", "deaths": 0.67},
          {"county": "Santa Clara", "date": "2021-02-10", "deaths": 0.64},
          {"county": "Santa Clara", "date": "2021-02-13", "deaths": 0.63},
          {"county": "Santa Clara", "date": "2021-02-15", "deaths": 0.62},
          {"county": "Santa Clara", "date": "2021-02-17", "deaths": 0.535},
          {"county": "Santa Clara", "date": "2021-02-19", "deaths": 0.46},
          {"county": "Santa Clara", "date": "2021-02-21", "deaths": 0.44},
          {"county": "Santa Clara", "date": "2021-02-24", "deaths": 0.39},
          {"county": "Santa Clara", "date": "2021-02-27", "deaths": 0.34},
          {"county": "Santa Clara", "date": "2021-03-02", "deaths": 0.31},
          {"county": "Santa Clara", "date": "2021-03-05", "deaths": 0.235},
          {"county": "Santa Clara", "date": "2021-03-08", "deaths": 0.225},
          {"county": "Santa Clara", "date": "2021-03-11", "deaths": 0.285},
          {"county": "Santa Clara", "date": "2021-03-14", "deaths": 0.235},
          {"county": "Santa Clara", "date": "2021-03-17", "deaths": 0.215},
          {"county": "Santa Clara", "date": "2021-03-20", "deaths": 0.15},
          {"county": "Santa Clara", "date": "2021-03-24", "deaths": 0.11},
          {"county": "Santa Clara", "date": "2021-03-28", "deaths": 0.07},
          {"county": "Santa Clara", "date": "2021-04-02", "deaths": 0.04},
          {"county": "Santa Clara", "date": "2021-04-05", "deaths": 0.01}
        ]
      },
      "mark": {"type": "line", "strokeWidth": 7, "strokeJoin": "round", "strokeCap": "butt"},
      "encoding": {
        "x": {
          "field": "date",
          "type": "temporal",
          "title": "Date",
          "scale": {
            "type": "utc",
            "domain": [
              {"year": 2020, "month": 4, "date": 27, "hours": 9, "minutes": 43, "utc": true},
              {"year": 2021, "month": 4, "date": 11, "hours": 22, "minutes": 19, "utc": true}
            ]
          },
          "axis": {
            "grid": true,
            "values": [
              {"year": 2020, "month": 5, "date": 4, "utc": true},
              {"year": 2020, "month": 5, "date": 18, "utc": true},
              {"year": 2020, "month": 6, "date": 1, "utc": true},
              {"year": 2020, "month": 6, "date": 15, "utc": true},
              {"year": 2020, "month": 6, "date": 29, "utc": true},
              {"year": 2020, "month": 7, "date": 13, "utc": true},
              {"year": 2020, "month": 7, "date": 27, "utc": true},
              {"year": 2020, "month": 8, "date": 10, "utc": true},
              {"year": 2020, "month": 8, "date": 24, "utc": true},
              {"year": 2020, "month": 9, "date": 7, "utc": true},
              {"year": 2020, "month": 9, "date": 21, "utc": true},
              {"year": 2020, "month": 10, "date": 5, "utc": true},
              {"year": 2020, "month": 10, "date": 19, "utc": true},
              {"year": 2020, "month": 11, "date": 2, "utc": true},
              {"year": 2020, "month": 11, "date": 16, "utc": true},
              {"year": 2020, "month": 11, "date": 30, "utc": true},
              {"year": 2020, "month": 12, "date": 14, "utc": true},
              {"year": 2020, "month": 12, "date": 28, "utc": true},
              {"year": 2021, "month": 1, "date": 11, "utc": true},
              {"year": 2021, "month": 1, "date": 25, "utc": true},
              {"year": 2021, "month": 2, "date": 8, "utc": true},
              {"year": 2021, "month": 2, "date": 22, "utc": true},
              {"year": 2021, "month": 3, "date": 8, "utc": true},
              {"year": 2021, "month": 3, "date": 22, "utc": true},
              {"year": 2021, "month": 4, "date": 5, "utc": true}
            ],
            "labelExpr": "((datum.value - utc(2020,4,4)) / 864e5) % 28 > 7 ? '' : utcFormat(datum.value, '%b %d')",
            "labelOverlap": false,
            "labelFlush": false,
            "labelBound": false,
            "labelPadding": 6,
            "titlePadding": 8,
            "gridWidth": {"condition": {"test": "((datum.value - utc(2020,4,4)) / 864e5) % 28 > 7", "value": 1.5}, "value": 3},
            "tickOpacity": {"condition": {"test": "((datum.value - utc(2020,4,4)) / 864e5) % 28 > 7", "value": 0}, "value": 1}
          }
        },
        "y": {
          "field": "deaths",
          "type": "quantitative",
          "title": ["New Daily Deaths due to COVID-19", "per 100,000 People"],
          "scale": {"domain": [-0.09, 2.006], "nice": false, "zero": false},
          "axis": {
            "grid": true,
            "values": [0, 0.25, 0.5, 0.75, 1, 1.25, 1.5, 1.75, 2],
            "format": ".2f",
            "labelExpr": "(datum.value * 4) % 2 > 0.5 ? '' : format(datum.value, '.2f')",
            "labelPadding": 6,
            "titlePadding": 10,
            "titleLineHeight": 40,
            "gridWidth": {"condition": {"test": "(datum.value * 4) % 2 > 0.5", "value": 1.5}, "value": 3},
            "tickOpacity": {"condition": {"test": "(datum.value * 4) % 2 > 0.5", "value": 0}, "value": 1}
          }
        },
        "color": {
          "field": "county",
          "type": "nominal",
          "title": "County",
          "scale": {
            "domain": ["Alameda", "Contra Costa", "Orange", "Sacramento", "Santa Clara"],
            "range": ["#4DA6E6", "#C08CE0", "#E08E0B", "#C04D4E", "#0D5EA0"]
          },
          "legend": {
            "orient": "none",
            "legendX": 21,
            "legendY": 813,
            "direction": "horizontal",
            "titleOrient": "left",
            "titleFontSize": 32,
            "titleFontWeight": "normal",
            "titleColor": "black",
            "titlePadding": 17,
            "titleBaseline": "middle",
            "labelFontSize": 26.4,
            "labelColor": "black",
            "labelOffset": 19,
            "labelLimit": 0,
            "columnPadding": 8,
            "symbolType": "stroke",
            "symbolSize": 1296,
            "symbolStrokeWidth": 6
          }
        }
      }
    },
    {
      "data": {"values": [{}]},
      "mark": {"type": "text", "fontSize": 40, "color": "#3A77B0", "opacity": 0.5, "align": "center", "baseline": "alphabetic"},
      "encoding": {
        "x": {"datum": {"year": 2020, "month": 9, "date": 2, "hours": 6, "utc": true}, "type": "temporal"},
        "y": {"datum": 1.786, "type": "quantitative"},
        "text": {"value": "UC Irvine COVID Awareness Group"}
      }
    },
    {
      "data": {"values": [{}]},
      "mark": {"type": "text", "fontSize": 28, "color": "black", "align": "center", "baseline": "middle", "lineHeight": 42},
      "encoding": {
        "x": {"datum": {"year": 2020, "month": 5, "date": 25, "hours": 2, "utc": true}, "type": "temporal"},
        "y": {"datum": 0.357, "type": "quantitative"},
        "text": {"value": ["Stay at Home", "Order Ended"]}
      }
    }
  ]
}
